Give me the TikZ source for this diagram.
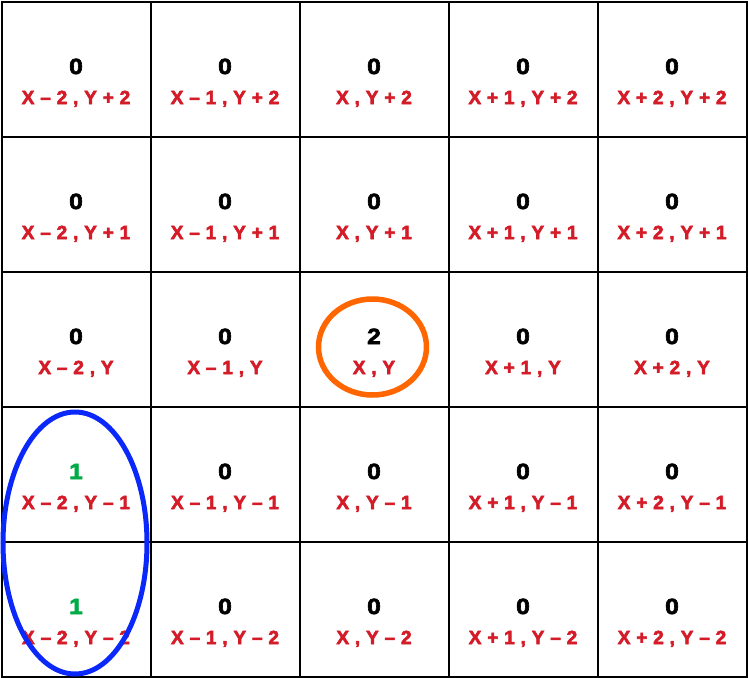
\documentclass[tikz,border=0pt]{standalone}
\usepackage{fontspec}
\setmainfont{Liberation Sans}[BoldFeatures={FakeBold=3}]
\definecolor{lblred}{RGB}{212,28,40}
\definecolor{numgreen}{RGB}{0,170,70}
\definecolor{ringblue}{RGB}{10,40,250}
\definecolor{ringorange}{RGB}{255,102,0}
\begin{document}
\begin{tikzpicture}[x=1pt,y=-1pt,
  cellbox/.style={draw=black,line width=1.6pt,minimum width=149pt,minimum height=135pt,inner sep=0pt,anchor=north west},
  numtxt/.style={font=\fontsize{22}{24}\selectfont\bfseries\addfontfeature{FakeStretch=1.12},text=black,inner sep=0pt,anchor=base},
  lbltxt/.style={font=\fontsize{19}{20}\selectfont\bfseries\addfontfeature{LetterSpace=3},text=lblred,inner sep=0pt,anchor=base},
  ring/.style={draw,line width=5.5pt,ellipse}]
\useasboundingbox (0,0) rectangle (748,678);
\foreach \r/\yl in {0/{Y + 2},1/{Y + 1},2/{Y},3/{Y -- 1},4/{Y -- 2}}{
  \foreach \c/\xl in {0/{X -- 2},1/{X -- 1},2/{X},3/{X + 1},4/{X + 2}}{
    \node[cellbox] (cell-\r-\c) at ({1+149*\c},{1+135*\r}) {};
    \node[lbltxt] (lbl-\r-\c) at ({76+149*\c},{104+135*\r}) {\xl\ , \yl};
  }
}
\foreach \r/\c/\v in {0/0/0,0/1/0,0/2/0,0/3/0,0/4/0,
                     1/0/0,1/1/0,1/2/0,1/3/0,1/4/0,
                     2/0/0,2/1/0,2/2/2,2/3/0,2/4/0,
                     3/1/0,3/2/0,3/3/0,3/4/0,
                     4/1/0,4/2/0,4/3/0,4/4/0}{
  \node[numtxt] (num-\r-\c) at ({76+149*\c},{74+135*\r}) {\v};
}
\node[numtxt,text=numgreen] (num-3-0) at (76,{74+135*3}) {1};
\node[numtxt,text=numgreen] (num-4-0) at (76,{74+135*4}) {1};
\draw[ringorange,line width=5.5pt] (372.5,347) ellipse (54pt and 48pt);
\draw[ringblue,line width=5pt] (75,543) ellipse (72pt and 131pt);
\end{tikzpicture}
\end{document}
